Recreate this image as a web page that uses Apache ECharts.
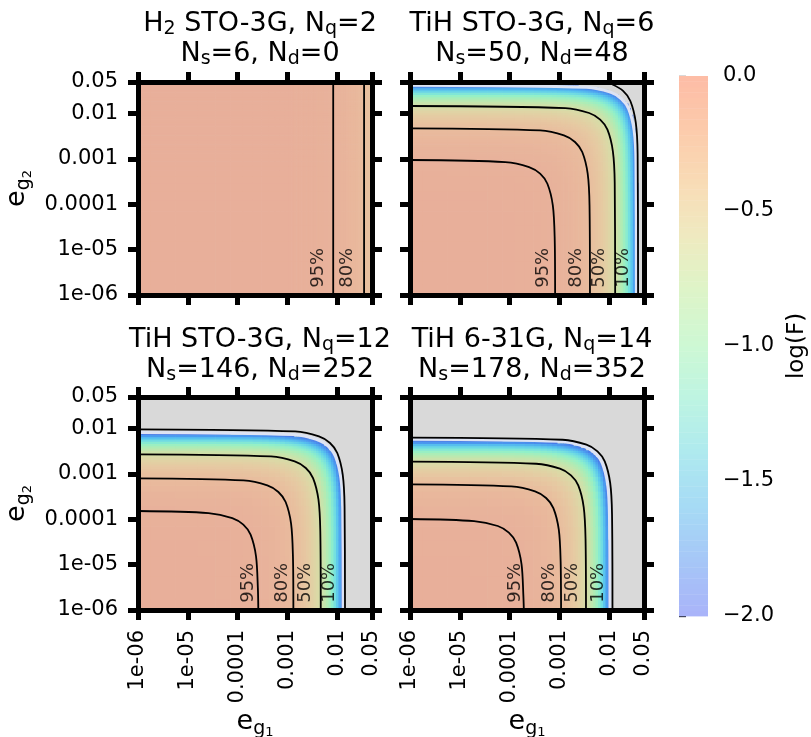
<!DOCTYPE html>
<html>
<head>
<meta charset="utf-8">
<script src="https://cdn.jsdelivr.net/npm/echarts@6/dist/echarts.min.js"></script>
<style>
html,body{margin:0;padding:0;background:#fff}
#main{width:811px;height:737px}
</style>
</head>
<body>
<div id="main"></div>
<script>
var FONT = 'DejaVu Sans';

// sample points along e_g1 / e_g2, as log10(e)
var logE = [-6, -5.5, -5, -4.6, -4.3, -4.0, -3.8, -3.6, -3.45, -3.3, -3.2, -3.1,
  -3.0, -2.95, -2.9, -2.85, -2.8, -2.75, -2.7, -2.65, -2.6, -2.55, -2.5, -2.45, -2.4, -2.35, -2.3, -2.25, -2.2, -2.15, -2.1, -2.05,
  -2.0, -1.95, -1.9, -1.85, -1.8, -1.75, -1.7, -1.65, -1.6, -1.55, -1.5, -1.45, -1.4, -1.35, -1.3];

// log(F) contribution of the e_g1 (x) and e_g2 (y) errors, per panel
var h2X = [0, 0, 0, 0, 0, -0.001, -0.001, -0.002, -0.002, -0.003, -0.004, -0.005,
  -0.006, -0.007, -0.008, -0.009, -0.010, -0.011, -0.013, -0.014, -0.016, -0.018, -0.020, -0.022, -0.025, -0.028, -0.032, -0.035, -0.040, -0.045, -0.050, -0.056,
  -0.063, -0.071, -0.079, -0.089, -0.100, -0.112, -0.126, -0.141, -0.158, -0.178, -0.199, -0.224, -0.251, -0.281, -0.316];
var h2Y = [0, 0, 0, 0, 0, 0, 0, 0, 0, 0, 0, 0,
  0, 0, 0, 0, 0, 0, 0, 0, 0, 0, 0, 0, 0, 0, 0, 0, 0, 0, 0, 0,
  0, 0, 0, 0, 0, 0, 0, 0, 0, 0, 0, 0, 0, 0, 0];
var tih6X = [0, 0, -0.001, -0.001, -0.003, -0.006, -0.009, -0.014, -0.020, -0.028, -0.035, -0.044,
  -0.056, -0.063, -0.071, -0.079, -0.089, -0.100, -0.112, -0.125, -0.141, -0.158, -0.177, -0.199, -0.223, -0.250, -0.281, -0.315, -0.353, -0.396, -0.445, -0.499,
  -0.560, -0.628, -0.705, -0.791, -0.888, -0.996, -1.117, -1.254, -1.407, -1.578, -1.771, -1.987, -2.229, -2.502, -2.807];
var tih6Y = [0, 0, 0, -0.001, -0.002, -0.005, -0.007, -0.012, -0.017, -0.024, -0.030, -0.037,
  -0.047, -0.053, -0.059, -0.066, -0.074, -0.084, -0.094, -0.105, -0.118, -0.132, -0.149, -0.167, -0.187, -0.210, -0.236, -0.264, -0.297, -0.333, -0.373, -0.419,
  -0.470, -0.527, -0.592, -0.664, -0.745, -0.836, -0.938, -1.052, -1.181, -1.324, -1.486, -1.668, -1.871, -2.099, -2.356];
var tih12X = [0, 0, -0.002, -0.004, -0.008, -0.016, -0.025, -0.039, -0.055, -0.078, -0.098, -0.123,
  -0.155, -0.174, -0.195, -0.219, -0.246, -0.276, -0.309, -0.347, -0.389, -0.437, -0.490, -0.550, -0.617, -0.692, -0.777, -0.872, -0.978, -1.097, -1.231, -1.382,
  -1.550, -1.739, -1.951, -2.190, -2.457, -2.756, -3.09, -3.47, -3.89, -4.37, -4.90, -5.50, -6.17, -6.92, -7.77];
var tih12Y = [0, -0.001, -0.003, -0.006, -0.013, -0.026, -0.040, -0.064, -0.091, -0.128, -0.161, -0.202,
  -0.255, -0.286, -0.321, -0.360, -0.404, -0.453, -0.509, -0.571, -0.641, -0.719, -0.806, -0.905, -1.015, -1.139, -1.278, -1.434, -1.609, -1.805, -1.985, -2.273,
  -2.550, -2.86, -3.21, -3.60, -4.04, -4.53, -5.09, -5.71, -6.40, -7.19, -8.06, -9.05, -10.15, -11.39, -12.78];
var tih14X = [0, -0.001, -0.002, -0.005, -0.010, -0.020, -0.032, -0.050, -0.071, -0.100, -0.126, -0.159,
  -0.200, -0.224, -0.252, -0.283, -0.317, -0.356, -0.399, -0.448, -0.502, -0.564, -0.632, -0.710, -0.796, -0.893, -1.002, -1.125, -1.262, -1.416, -1.589, -1.783,
  -1.990, -2.244, -2.518, -2.825, -3.17, -3.56, -3.99, -4.48, -5.02, -5.64, -6.32, -7.10, -7.96, -8.93, -10.02];
var tih14Y = [0, -0.001, -0.004, -0.009, -0.018, -0.037, -0.058, -0.092, -0.130, -0.183, -0.230, -0.290,
  -0.365, -0.410, -0.460, -0.516, -0.579, -0.649, -0.728, -0.817, -0.917, -1.029, -1.154, -1.295, -1.453, -1.630, -1.830, -1.985, -2.303, -2.58, -2.90, -3.25,
  -3.65, -4.10, -4.60, -5.16, -5.79, -6.49, -7.28, -8.17, -9.17, -10.29, -11.54, -12.95, -14.53, -16.30, -18.29];

// black contour lines (95%, 80%, 50%, 10%), points as [log10 e_g1, log10 e_g2]
var h2Contours = [
  [[-2.08, -1.301], [-2.08, -6]],
  [[-1.46, -1.301], [-1.46, -6]]
];
var tih6Contours = [
  [[-6, -3.022], [-4.086, -3.068], [-3.609, -3.177], [-3.387, -3.323], [-3.241, -3.545], [-3.132, -4.022], [-3.095, -4.722], [-3.086, -6]],
  [[-6, -2.323], [-3.386, -2.369], [-2.909, -2.478], [-2.687, -2.624], [-2.541, -2.846], [-2.432, -3.323], [-2.395, -4.023], [-2.386, -6]],
  [[-6, -1.83], [-2.88, -1.876], [-2.403, -1.985], [-2.181, -2.131], [-2.035, -2.353], [-1.926, -2.83], [-1.889, -3.53], [-1.88, -6]],
  [[-2.09, -1.301], [-1.943, -1.352], [-1.721, -1.498], [-1.575, -1.72], [-1.466, -2.197], [-1.429, -2.897], [-1.42, -6]]
];
var tih12Contours = [
  [[-6, -3.816], [-4.584, -3.862], [-4.107, -3.971], [-3.885, -4.117], [-3.739, -4.339], [-3.63, -4.816], [-3.593, -5.516], [-3.584, -6]],
  [[-6, -3.095], [-3.88, -3.141], [-3.403, -3.25], [-3.181, -3.396], [-3.035, -3.618], [-2.926, -4.095], [-2.889, -4.795], [-2.88, -6]],
  [[-6, -2.566], [-3.33, -2.612], [-2.853, -2.721], [-2.631, -2.867], [-2.485, -3.089], [-2.376, -3.566], [-2.339, -4.266], [-2.33, -6]],
  [[-6, -2.014], [-2.843, -2.06], [-2.366, -2.169], [-2.144, -2.315], [-1.998, -2.537], [-1.889, -3.014], [-1.852, -3.714], [-1.843, -6]]
];
var tih14Contours = [
  [[-6, -3.992], [-4.714, -4.038], [-4.237, -4.147], [-4.015, -4.293], [-3.869, -4.515], [-3.76, -4.992], [-3.723, -5.692], [-3.714, -6]],
  [[-6, -3.228], [-3.966, -3.274], [-3.489, -3.383], [-3.267, -3.529], [-3.121, -3.751], [-3.012, -4.228], [-2.975, -4.928], [-2.966, -6]],
  [[-6, -2.728], [-3.466, -2.774], [-2.989, -2.883], [-2.767, -3.029], [-2.621, -3.251], [-2.512, -3.728], [-2.475, -4.428], [-2.466, -6]],
  [[-6, -2.198], [-2.934, -2.244], [-2.457, -2.353], [-2.235, -2.499], [-2.089, -2.721], [-1.98, -3.198], [-1.943, -3.898], [-1.934, -6]]
];

// pale edge of the filled region (log F = -2)
var h2Edge = [];
var tih6Edge = [[-6, -1.371], [-2.453, -1.417], [-1.976, -1.526], [-1.754, -1.672], [-1.608, -1.894], [-1.499, -2.371], [-1.462, -3.071], [-1.453, -6]];
var tih12Edge = [[-6, -2.085], [-2.88, -2.131], [-2.403, -2.24], [-2.181, -2.386], [-2.035, -2.608], [-1.926, -3.085], [-1.889, -3.785], [-1.88, -6]];
var tih14Edge = [[-6, -2.232], [-2.985, -2.278], [-2.508, -2.387], [-2.286, -2.533], [-2.14, -2.755], [-2.031, -3.232], [-1.994, -3.932], [-1.985, -6]];

// contour labels [log10 e_g1, log10 e_g2, text]
var h2Labels = [[-2.386, -5.4, '95%'], [-1.797, -5.4, '80%']];
var tih6Labels = [[-3.316, -5.4, '95%'], [-2.66, -5.4, '80%'], [-2.193, -5.4, '50%'], [-1.717, -5.4, '10%']];
var tih12Labels = [[-3.785, -5.4, '95%'], [-3.098, -5.4, '80%'], [-2.63, -5.4, '50%'], [-2.155, -5.4, '10%']];
var tih14Labels = [[-3.883, -5.4, '95%'], [-3.2, -5.4, '80%'], [-2.743, -5.4, '50%'], [-2.217, -5.4, '10%']];

var titles = [
  ['H_{2} STO-3G, N_{q}=2', 'N_{s}=6, N_{d}=0'],
  ['TiH STO-3G, N_{q}=6', 'N_{s}=50, N_{d}=48'],
  ['TiH STO-3G, N_{q}=12', 'N_{s}=146, N_{d}=252'],
  ['TiH 6-31G, N_{q}=14', 'N_{s}=178, N_{d}=352']
];

var tickValues = [1e-6, 1e-5, 1e-4, 1e-3, 0.01, 0.05];
var tickLabels = ['1e-06', '1e-05', '0.0001', '0.001', '0.01', '0.05'];

// rainbow-like palette, low (-2) to high (0)
var fieldColors = ['#4a78e6', '#4b9cf0', '#58c4ee', '#74e0e0', '#92f0c8', '#b0ecb4', '#cce2aa', '#dcd8a6', '#e6caa2', '#e9bb9d', '#e8af9a'];
var barColors = ['#a9b3f9', '#a6c6f7', '#a6daf5', '#aee9ef', '#bdf4e2', '#cdf8d4', '#ddf4c8', '#eeeac0', '#f8dcb6', '#fccbab', '#fdbca6'];

var LO = -6, HI = Math.log10(0.05);
var tickPos = tickValues.map(function (t) { return Math.max(LO, Math.min(HI, Math.log10(t))); });

var panels = [
  {x: h2X, y: h2Y, lines: h2Contours, edge: h2Edge, labels: h2Labels},
  {x: tih6X, y: tih6Y, lines: tih6Contours, edge: tih6Edge, labels: tih6Labels},
  {x: tih12X, y: tih12Y, lines: tih12Contours, edge: tih12Edge, labels: tih12Labels},
  {x: tih14X, y: tih14Y, lines: tih14Contours, edge: tih14Edge, labels: tih14Labels}
];
var boxes = [
  {left: 138, top: 82}, {left: 410, top: 82},
  {left: 138, top: 397}, {left: 410, top: 397}
];
var PW = 234, PH = 213;

// cell borders half way between samples
var edges = [LO];
for (var i = 1; i < logE.length; i++) edges.push((logE[i - 1] + logE[i]) / 2);
edges.push(HI);

function fieldData(px, py) {
  var out = [];
  for (var i = 0; i < px.length; i++) {
    for (var j = 0; j < py.length; j++) {
      var v = px[i] + py[j];
      if (v >= -2) out.push([edges[i], edges[i + 1], edges[j], edges[j + 1], v]);
    }
  }
  return out;
}

function renderCell(params, api) {
  var a = api.coord([api.value(0), api.value(3)]);
  var b = api.coord([api.value(1), api.value(2)]);
  return {
    type: 'rect',
    shape: {x: a[0], y: a[1], width: b[0] - a[0] + 0.6, height: b[1] - a[1] + 0.6},
    style: {fill: api.visual('color')}
  };
}

function renderBar(params, api) {
  var a = api.coord([0, api.value(1)]);
  var b = api.coord([1, api.value(0)]);
  return {
    type: 'rect',
    shape: {x: a[0], y: a[1], width: b[0] - a[0], height: b[1] - a[1] + 0.4},
    style: {fill: api.visual('color')}
  };
}

function tickFormatter(v) {
  var best = 0;
  for (var i = 1; i < tickPos.length; i++) {
    if (Math.abs(tickPos[i] - v) < Math.abs(tickPos[best] - v)) best = i;
  }
  return tickLabels[best];
}

// 'N_{q}=2' -> '{m|N}{s|q}{m|=2}'
function toRich(s) {
  var re = /_\{([^}]*)\}/g, out = '', last = 0, m;
  while ((m = re.exec(s))) {
    if (m.index > last) out += '{m|' + s.slice(last, m.index) + '}';
    out += '{s|' + m[1] + '}';
    last = re.lastIndex;
  }
  if (last < s.length) out += '{m|' + s.slice(last) + '}';
  return out;
}

var nameStyle = {
  fontFamily: FONT, fontSize: 27, lineHeight: 34, color: '#000',
  rich: {
    e: {fontFamily: FONT, fontSize: 27, lineHeight: 34, color: '#000'},
    s: {fontFamily: FONT, fontSize: 19, lineHeight: 15, verticalAlign: 'bottom', color: '#000'},
    ss: {fontFamily: FONT, fontSize: 13, lineHeight: 6, verticalAlign: 'bottom', color: '#000'}
  }
};

var grids = [], xAxes = [], yAxes = [], series = [], titleList = [];

function frameAxis(gi, pos, labels, name) {
  return {
    gridIndex: gi, type: 'value', min: LO, max: HI, position: pos, z: 10,
    axisLine: {show: true, onZero: false, lineStyle: {color: '#000', width: 5, cap: 'square'}},
    axisTick: {show: true, customValues: tickPos, length: 10, lineStyle: {color: '#000', width: 5}},
    axisLabel: {
      show: labels, customValues: tickPos, formatter: tickFormatter,
      fontFamily: FONT, fontSize: 21, color: '#000',
      margin: 20, rotate: (pos === 'bottom') ? 90 : 0
    },
    splitLine: {show: false},
    name: name || '',
    nameLocation: 'middle',
    nameGap: (pos === 'bottom') ? 95 : 104,
    nameRotate: (pos === 'left') ? 90 : 0,
    nameMoveOverlap: false,
    nameTextStyle: nameStyle
  };
}

panels.forEach(function (p, i) {
  var b = boxes[i];
  var bottomRow = i >= 2, leftCol = (i % 2) === 0;
  grids.push({left: b.left, top: b.top, width: PW, height: PH, show: true,
    backgroundColor: '#d9d9d9', borderWidth: 0, containLabel: false, outerBoundsMode: 'none'});
  xAxes.push(frameAxis(i, 'bottom', bottomRow, bottomRow ? '{e|e}{s|g}{ss|1}' : ''));
  xAxes.push(frameAxis(i, 'top', false));
  yAxes.push(frameAxis(i, 'left', leftCol, leftCol ? '{e|e}{s|g}{ss|2}' : ''));
  yAxes.push(frameAxis(i, 'right', false));

  titleList.push({
    text: toRich(titles[i][0]) + '\n' + toRich(titles[i][1]),
    left: b.left + PW / 2, top: bottomRow ? 320 : 4, textAlign: 'center',
    textStyle: {
      fontFamily: FONT, fontSize: 27, fontWeight: 'normal', color: '#000', lineHeight: 30,
      rich: {
        m: {fontFamily: FONT, fontSize: 27, lineHeight: 30, color: '#000'},
        s: {fontFamily: FONT, fontSize: 19, lineHeight: 18, verticalAlign: 'bottom', color: '#000'}
      }
    }
  });

  series.push({
    type: 'custom', name: 'field' + i, xAxisIndex: 2 * i, yAxisIndex: 2 * i,
    renderItem: renderCell, data: fieldData(p.x, p.y), encode: {x: [0, 1], y: [2, 3]},
    clip: true, silent: true, progressive: 0, z: 2
  });
});

// colour bar grid
grids.push({left: 679, top: 76, width: 29, height: 540, show: false, containLabel: false, outerBoundsMode: 'none'});
xAxes.push({gridIndex: 4, type: 'value', min: 0, max: 1, show: false});
yAxes.push({
  gridIndex: 4, type: 'value', min: -2, max: 0, interval: 0.5, position: 'right',
  axisLine: {show: false},
  axisTick: {show: true, length: 7, lineStyle: {color: '#000', width: 1.3}},
  axisLabel: {
    fontFamily: FONT, fontSize: 21, color: '#000', margin: 15,
    formatter: function (v) { return (v < 0 ? '\u2212' : '') + Math.abs(v).toFixed(1); }
  },
  splitLine: {show: false},
  name: 'log(F)', nameLocation: 'middle', nameRotate: 90, nameGap: 78, nameMoveOverlap: false,
  nameTextStyle: {fontFamily: FONT, fontSize: 23, color: '#000'}
});
var barData = [];
for (var k = 0; k < 100; k++) {
  var v0 = -2 + k * 0.02;
  barData.push([v0, v0 + 0.02, v0 + 0.01]);
}
series.push({
  type: 'custom', name: 'bar', xAxisIndex: 8, yAxisIndex: 8, renderItem: renderBar,
  data: barData, encode: {y: [0, 1]}, silent: true, progressive: 0, z: 2
});

// edge of the fill, contour lines and their labels
panels.forEach(function (p, i) {
  if (p.edge.length) {
    series.push({
      type: 'line', xAxisIndex: 2 * i, yAxisIndex: 2 * i, data: p.edge,
      smooth: 0.3, showSymbol: false, symbol: 'none', silent: true, z: 3,
      lineStyle: {color: '#dde3f3', width: 3}
    });
  }
  p.lines.forEach(function (pts) {
    series.push({
      type: 'line', xAxisIndex: 2 * i, yAxisIndex: 2 * i, data: pts,
      smooth: 0.3, showSymbol: false, symbol: 'none', silent: true, z: 3,
      lineStyle: {color: '#000', width: 1.8}
    });
  });
  series.push({
    type: 'scatter', xAxisIndex: 2 * i, yAxisIndex: 2 * i, symbolSize: 0, silent: true, z: 4,
    data: p.labels.map(function (l) { return {value: [l[0], l[1]], name: l[2]}; }),
    label: {show: true, position: 'inside', rotate: 90, formatter: '{b}',
      fontFamily: FONT, fontSize: 18, color: '#000'}
  });
});

var chart = echarts.init(document.getElementById('main'), null, {renderer: 'canvas'});
chart.setOption({
  animation: false,
  backgroundColor: '#fff',
  textStyle: {fontFamily: FONT},
  title: titleList,
  grid: grids,
  xAxis: xAxes,
  yAxis: yAxes,
  visualMap: [
    {type: 'continuous', show: false, min: -2, max: 0, dimension: 4, seriesIndex: [0, 1, 2, 3],
      inRange: {color: fieldColors}},
    {type: 'continuous', show: false, min: -2, max: 0, dimension: 2, seriesIndex: [4],
      inRange: {color: barColors}}
  ],
  series: series
});
</script>
</body>
</html>
